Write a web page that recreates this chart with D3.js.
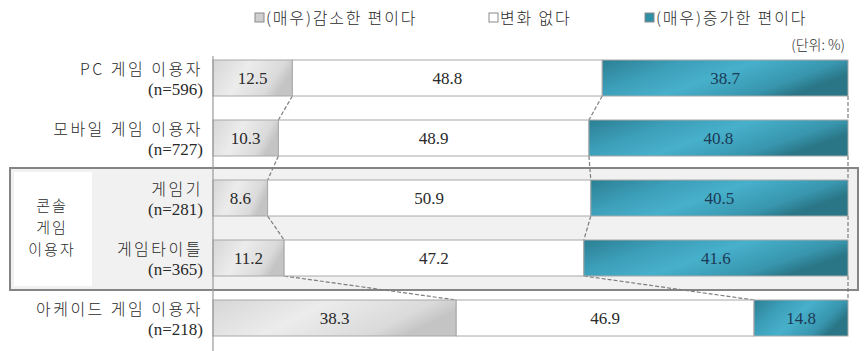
<!DOCTYPE html>
<html><head><meta charset="utf-8">
<script src="https://cdn.jsdelivr.net/npm/d3@7"></script>
<style>body{margin:0;background:#fff}svg{display:block}</style>
</head><body>
<svg id="c" width="868" height="351"></svg>
<script>
const categories = ["PC 게임 이용자", "모바일 게임 이용자", "게임기", "게임타이틀", "아케이드 게임 이용자"];
const sampleSizes = ["(n=596)", "(n=727)", "(n=281)", "(n=365)", "(n=218)"];
const seriesNames = ["(매우)감소한 편이다", "변화 없다", "(매우)증가한 편이다"];
const decrease = [12.5, 10.3, 8.6, 11.2, 38.3];
const noChange = [48.8, 48.9, 50.9, 47.2, 46.9];
const increase = [38.7, 40.8, 40.5, 41.6, 14.8];
const groupLabel = ["콘솔", "게임", "이용자"];
const unitLabel = "(단위: %)";

const svg = d3.select("#c");
const KR = "'Noto Sans CJK KR','Noto Sans',sans-serif";
const SERIF = "'Liberation Serif','DejaVu Serif',serif";
const TXT = "#2a2a2a";

const defs = svg.append("defs");
const gGray = defs.append("linearGradient").attr("id","gGray").attr("x1","0").attr("x2","1").attr("y1","0").attr("y2","0.3");
[["0%","#d6d6d6"],["45%","#ececec"],["85%","#dadada"],["100%","#c4c4c4"]].forEach(s=>gGray.append("stop").attr("offset",s[0]).attr("stop-color",s[1]));
const gTeal = defs.append("linearGradient").attr("id","gTeal").attr("x1","0").attr("x2","1").attr("y1","0").attr("y2","0.4");
[["0%","#2b7f93"],["30%","#3d9fb9"],["55%","#47b0cb"],["85%","#3896ae"],["100%","#2a7687"]].forEach(s=>gTeal.append("stop").attr("offset",s[0]).attr("stop-color",s[1]));

const x = d3.scaleLinear().domain([0,100]).range([213,848]);
const y = d3.scalePoint().domain(categories).range([48,348]).padding(0.5);
const barH = 36;

// console group box
const consoleCats = ["게임기","게임타이틀"];
const boxTop = y(consoleCats[0]) - 30, boxBot = y(consoleCats[1]) + 32;
svg.append("rect").attr("x",10).attr("y",boxTop).attr("width",848).attr("height",boxBot-boxTop)
  .attr("fill","#f1f1f1").attr("stroke","#858585").attr("stroke-width",2);
svg.append("rect").attr("x",14).attr("y",boxTop+4).attr("width",78).attr("height",boxBot-boxTop-8).attr("fill","#fff");
svg.append("g").selectAll("text").data(groupLabel).join("text")
  .attr("x",52).attr("y",(d,i)=>211+i*22).attr("text-anchor","middle")
  .attr("font-family",KR).attr("font-size",15).attr("font-weight",300).attr("letter-spacing",2).attr("fill",TXT).text(d=>d);

// rows
const rows = categories.map((c,i)=>({c, n:sampleSizes[i], segs:[
  {k:0,v:decrease[i],s:0},{k:1,v:noChange[i],s:decrease[i]},{k:2,v:increase[i],s:decrease[i]+noChange[i]}]}));
const fills = ["url(#gGray)","#ffffff","url(#gTeal)"];

// connectors
const conn = svg.append("g").attr("stroke","#7d7d7d").attr("stroke-width",1.2).attr("stroke-dasharray","4,2").attr("fill","none");
for (let i=0;i<rows.length-1;i++){
  const a = [decrease[i], decrease[i]+noChange[i], 100];
  const b = [decrease[i+1], decrease[i+1]+noChange[i+1], 100];
  a.forEach((v,j)=>conn.append("line")
    .attr("x1",x(v)).attr("y1",y(categories[i])+barH/2)
    .attr("x2",x(b[j])).attr("y2",y(categories[i+1])-barH/2));
}

const rg = svg.append("g").selectAll("g").data(rows).join("g").attr("transform",d=>`translate(0,${y(d.c)})`);
rg.selectAll("rect").data(d=>d.segs).join("rect")
  .attr("x",d=>x(d.s)).attr("y",-barH/2).attr("width",d=>x(d.s+d.v)-x(d.s)).attr("height",barH)
  .attr("fill",d=>fills[d.k]).attr("stroke","#a8a8a8").attr("stroke-width",1);
rg.selectAll("text.v").data(d=>d.segs).join("text").attr("class","v")
  .attr("x",d=>(x(d.s)+x(d.s+d.v))/2).attr("y",6).attr("text-anchor","middle")
  .attr("font-family",SERIF).attr("font-size",17).attr("fill",d=>d.k===2?"#1c3a55":TXT).text(d=>d.v.toFixed(1));

// category labels
rg.append("text").attr("x",203).attr("y",-3).attr("text-anchor","end")
  .attr("font-family",KR).attr("font-size",16).attr("font-weight",300).attr("letter-spacing",2.5).attr("fill",TXT).text(d=>d.c);
rg.append("text").attr("x",203).attr("y",17).attr("text-anchor","end")
  .attr("font-family",SERIF).attr("font-size",17).attr("fill",TXT).text(d=>d.n);

// axis line
svg.append("line").attr("x1",213).attr("x2",213).attr("y1",56).attr("y2",351).attr("stroke","#9a9a9a").attr("stroke-width",1.2);

// legend
const legX = [255, 489, 645];
const legFill = ["#cfcfcf","#ffffff","#2f8fa6"];
const lg = svg.append("g").selectAll("g").data(seriesNames).join("g").attr("transform",(d,i)=>`translate(${legX[i]},0)`);
lg.append("rect").attr("x",0).attr("y",13).attr("width",9).attr("height",9).attr("fill",(d,i)=>legFill[i]).attr("stroke","#8a8a8a");
lg.append("text").attr("x",11).attr("y",24).attr("font-family",KR).attr("font-size",16).attr("font-weight",300).attr("letter-spacing",1.8).attr("fill",TXT).text(d=>d);

svg.append("text").attr("x",845).attr("y",50).attr("text-anchor","end").attr("font-family",KR).attr("font-size",14).attr("font-weight",300).attr("fill",TXT).text(unitLabel);
</script>
</body></html>
